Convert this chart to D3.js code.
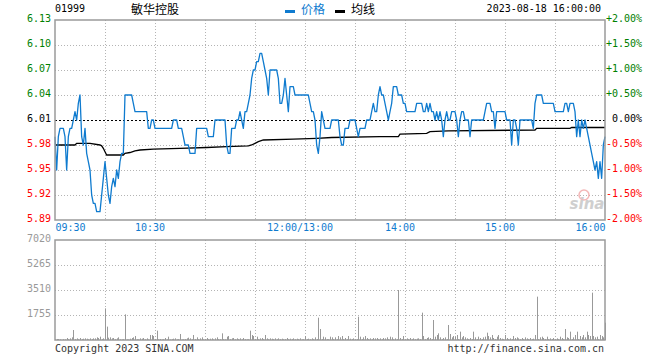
<!DOCTYPE html>
<html><head><meta charset="utf-8">
<script src="https://cdn.jsdelivr.net/npm/d3@7"></script>
<style>
html,body{margin:0;padding:0;background:#fff;}
svg{display:block;}
</style></head>
<body>
<svg id="c" width="660" height="360"></svg>
<script>
// ---- data ----
const stockCode = "01999";
const stockName = "敏华控股";
const dateTime = "2023-08-18 16:00:00";
const prevClose = 6.01;
const priceTicks = [6.13, 6.10, 6.07, 6.04, 6.01, 5.98, 5.95, 5.92, 5.89];
const pctLabels = ["+2.00%", "+1.50%", "+1.00%", "+0.50%", "0.00%", "-0.50%", "-1.00%", "-1.50%", "-2.00%"];
const volTicks = [7020, 5265, 3510, 1755];
const timeTicks = ["09:30", "10:30", "12:00/13:00", "14:00", "15:00", "16:00"];
// one price per trading minute from 09:30
const prices = [
5.99,5.95,5.99,6.00,6.00,6.00,5.99,5.95,5.99,6.00,
6.00,6.01,6.02,6.01,6.03,6.04,5.99,5.98,6.00,5.97,
5.96,5.95,5.92,5.91,5.91,5.90,5.90,5.90,5.92,5.94,
5.96,5.94,5.92,5.91,5.93,5.94,5.93,5.95,5.94,5.96,
5.97,5.97,6.04,6.04,6.04,6.04,6.04,6.03,6.02,6.02,
6.02,6.02,6.02,6.02,6.02,6.02,6.00,6.00,6.01,6.01,
6.00,6.00,6.00,6.00,6.00,6.00,6.00,6.00,6.00,6.00,
6.00,6.01,6.01,6.01,6.00,6.00,6.00,5.99,5.98,5.98,
5.98,5.97,5.97,5.97,5.97,6.00,6.00,6.00,6.00,6.00,
6.00,6.00,5.99,5.99,5.99,5.99,6.01,6.01,6.01,6.01,
6.01,6.01,6.01,5.98,5.97,5.97,6.00,6.00,6.00,6.01,
6.01,6.02,6.01,6.00,6.02,6.02,6.03,6.04,6.06,6.07,
6.07,6.08,6.08,6.09,6.09,6.08,6.07,6.06,6.04,6.07,
6.07,6.07,6.07,6.07,6.06,6.03,6.03,6.04,6.06,6.04,
6.02,6.05,6.05,6.05,6.04,6.04,6.04,6.04,6.04,6.04,
6.04,6.04,6.04,6.03,6.02,6.02,6.01,5.98,5.97,5.99,
6.02,6.01,6.00,6.00,6.00,6.00,6.01,6.01,6.01,6.01,
6.01,5.99,5.98,5.98,6.00,6.00,6.00,6.01,6.01,6.01,
6.01,6.00,5.99,6.00,6.00,6.00,6.00,6.01,6.01,6.01,
6.02,6.03,6.02,6.02,6.04,6.05,6.04,6.04,6.03,6.02,
6.01,6.02,6.03,6.05,6.05,6.05,6.04,6.04,6.04,6.03,
6.03,6.02,6.02,6.02,6.02,6.02,6.02,6.03,6.03,6.03,
6.03,6.02,6.02,6.03,6.02,6.03,6.02,6.02,6.01,6.02,
6.01,6.02,6.01,5.99,6.01,6.02,6.01,6.01,6.02,6.02,
6.02,6.01,5.99,6.01,6.02,6.02,6.01,6.01,6.01,5.99,
6.01,6.01,6.01,6.01,6.01,6.01,6.01,6.01,6.02,6.03,
6.03,6.03,6.02,6.02,6.00,6.02,6.02,6.02,6.02,6.02,
6.02,6.01,6.01,6.01,5.98,6.01,6.01,6.00,5.98,6.01,
6.01,6.01,6.01,6.01,6.01,6.01,6.01,6.00,6.03,6.04,
6.04,6.04,6.04,6.03,6.03,6.03,6.03,6.03,6.03,6.03,
6.02,6.02,6.02,6.02,6.02,6.02,6.03,6.03,6.02,6.03,
6.03,6.03,6.02,5.99,6.01,5.99,6.01,6.00,6.01,6.00,
5.99,5.98,5.97,5.96,5.95,5.96,5.94,5.96,5.94,5.98,
5.99
];
// one volume per trading minute from 09:30
const volumes = [
60,70,70,40,0,50,40,140,60,117,
187,700,60,117,50,140,60,94,117,94,
50,117,60,117,117,187,140,234,60,117,
2220,940,164,187,117,140,60,117,187,40,
30,50,1800,40,30,94,140,187,281,50,
40,117,94,140,50,117,40,351,351,281,
60,655,40,70,30,50,140,40,234,30,
50,94,117,40,60,421,30,40,60,117,
164,117,40,351,60,187,50,117,187,40,
60,140,50,94,117,40,117,187,60,50,
468,60,40,234,281,60,117,140,50,117,
60,117,40,140,60,40,50,655,351,281,
60,234,50,117,140,60,351,117,50,117,
94,60,117,50,117,60,94,50,60,140,
50,94,60,117,50,94,60,117,40,50,
281,60,94,50,117,60,187,70,1568,772,
60,234,187,60,50,234,187,60,187,50,
281,187,281,60,140,50,281,94,60,117,
50,60,1638,234,60,187,281,140,60,117,
50,140,117,140,60,117,50,140,117,187,
60,234,187,50,117,60,3510,140,60,281,
50,117,60,140,50,117,60,94,117,60,
1919,281,60,140,187,140,60,1404,234,351,
468,187,60,140,187,60,1053,421,187,281,
234,351,60,585,187,281,187,117,60,140,
60,585,187,60,234,140,60,187,234,515,
281,187,351,140,60,234,351,140,94,60,
351,140,60,117,60,281,140,187,117,60,
140,60,187,117,60,140,60,94,351,3042,
60,187,234,140,60,234,60,117,60,140,
60,117,60,234,140,60,772,187,140,585,
60,187,351,585,60,281,187,351,187,585,
351,281,3323,281,187,234,60,351,281,187,
1216
];
// average price line, read at its turning points
const avgTimes = ["09:30","09:42","09:43","09:51","09:57","09:58","09:59","10:00","10:01","10:11","10:12","10:15","10:18","10:21","10:29","10:45","11:01","11:13","11:26","11:28","11:30","11:32","11:35","11:53","13:07","13:16","13:45","13:56","13:57","14:13","14:15","14:26","15:18","15:19","15:39","15:40","16:00"];
const avgValues = [5.980,5.980,5.982,5.982,5.980,5.979,5.976,5.972,5.968,5.968,5.970,5.971,5.973,5.974,5.975,5.976,5.977,5.978,5.979,5.980,5.982,5.984,5.986,5.987,5.988,5.989,5.990,5.990,5.993,5.994,5.996,5.997,5.998,6.000,6.000,6.001,6.001];

// ---- helpers ----
function tradeMinute(label) {
  const t = label.split("/")[0];
  const [h, m] = t.split(":").map(Number);
  const mins = h * 60 + m;
  return mins <= 720 ? mins - 570 : mins - 780 + 150;
}

const svg = d3.select("#c");
const mono = "'DejaVu Sans Mono', 'Liberation Mono', monospace";
const cjk = "'Noto Sans CJK SC', sans-serif";
const blue = "#0f7bcf";
const green = "#008000";
const red = "#ff0000";
const gridCol = "#b4b4b4";
const borderCol = "#9a9a9a";

const x = d3.scaleLinear().domain([0, 330]).range([55, 605]);
const yP = d3.scaleLinear().domain([5.89, 6.13]).range([220, 20]);
const yV = d3.scaleLinear().domain([0, 7020]).range([340, 240]);

const crisp = v => Math.round(v) + 0.5;

// ---- header ----
svg.append("text").attr("x", 55).attr("y", 12).attr("font-family", mono).attr("font-size", 10).attr("fill", "#000").text(stockCode);
svg.append("text").attr("x", 131).attr("y", 13.5).attr("font-family", cjk).attr("font-size", 12).attr("fill", "#000").text(stockName);
svg.append("rect").attr("x", 285).attr("y", 10).attr("width", 10).attr("height", 3).attr("fill", blue);
svg.append("text").attr("x", 301).attr("y", 13.5).attr("font-family", cjk).attr("font-size", 12).attr("fill", blue).text("价格");
svg.append("rect").attr("x", 335).attr("y", 10).attr("width", 10).attr("height", 3).attr("fill", "#000");
svg.append("text").attr("x", 351).attr("y", 13.5).attr("font-family", cjk).attr("font-size", 12).attr("fill", "#000").text("均线");
svg.append("text").attr("x", 601).attr("y", 12).attr("text-anchor", "end").attr("font-family", mono).attr("font-size", 10).attr("fill", "#000").text(dateTime);

// ---- grids ----
const gridMinutes = d3.range(30, 330, 30);
const g = svg.append("g");
g.selectAll("line.vg").data(gridMinutes).join("line")
  .attr("x1", d => crisp(x(d))).attr("x2", d => crisp(x(d)))
  .attr("y1", 20).attr("y2", 220)
  .attr("stroke", gridCol).attr("stroke-dasharray", "1,2");
g.selectAll("line.vg2").data(gridMinutes).join("line")
  .attr("x1", d => crisp(x(d))).attr("x2", d => crisp(x(d)))
  .attr("y1", 240).attr("y2", 340)
  .attr("stroke", gridCol).attr("stroke-dasharray", "1,2");
g.selectAll("line.hg").data(priceTicks.filter(d => d !== prevClose && d !== 6.13 && d !== 5.89)).join("line")
  .attr("x1", 55).attr("x2", 605)
  .attr("y1", d => crisp(yP(d))).attr("y2", d => crisp(yP(d)))
  .attr("stroke", gridCol).attr("stroke-dasharray", "1,2");
g.selectAll("line.hv").data(volTicks.filter(d => d !== 7020)).join("line")
  .attr("x1", 55).attr("x2", 605)
  .attr("y1", d => crisp(yV(d))).attr("y2", d => crisp(yV(d)))
  .attr("stroke", gridCol).attr("stroke-dasharray", "1,2");

// prev close
svg.append("line").attr("x1", 55).attr("x2", 605)
  .attr("y1", crisp(yP(prevClose))).attr("y2", crisp(yP(prevClose)))
  .attr("stroke", "#000").attr("stroke-width", 1.2).attr("stroke-dasharray", "2,2");

// sina watermark
const wm = svg.append("g").attr("opacity", 0.8);
wm.append("circle").attr("cx", 584).attr("cy", 195).attr("r", 5).attr("fill", "none").attr("stroke", "#f2a6a6").attr("stroke-width", 1.5);
wm.append("text").attr("x", 587).attr("y", 209).attr("text-anchor", "middle")
  .attr("font-family", "'DejaVu Sans', sans-serif").attr("font-size", 15).attr("font-weight", "bold").attr("font-style", "italic")
  .attr("fill", "#c4c4c4").text("sina");

// ---- volume bars ----
svg.append("g").selectAll("line").data(volumes).join("line")
  .attr("x1", (d, i) => crisp(x(i))).attr("x2", (d, i) => crisp(x(i)))
  .attr("y1", yV(0)).attr("y2", d => yV(d))
  .attr("stroke", "#999").attr("stroke-width", 1);

// ---- avg line ----
const avgPts = avgTimes.map((t, i) => [tradeMinute(t), avgValues[i]]);
svg.append("path").datum(avgPts)
  .attr("d", d3.line().x(d => x(d[0])).y(d => yP(d[1])))
  .attr("fill", "none").attr("stroke", "#000").attr("stroke-width", 1.3);

// ---- price line ----
svg.append("path").datum(prices)
  .attr("d", d3.line().x((d, i) => x(i)).y(d => yP(d)))
  .attr("fill", "none").attr("stroke", blue).attr("stroke-width", 1.3).attr("stroke-linejoin", "round");

// ---- borders ----
svg.append("rect").attr("x", 55).attr("y", 20).attr("width", 550).attr("height", 200)
  .attr("fill", "none").attr("stroke", borderCol).attr("stroke-width", 1.5);
svg.append("rect").attr("x", 55).attr("y", 240).attr("width", 550).attr("height", 100)
  .attr("fill", "none").attr("stroke", borderCol).attr("stroke-width", 1.5);

// ---- axes ----
const colorFor = d => d > prevClose + 1e-9 ? green : (d < prevClose - 1e-9 ? red : "#000");

const leftAx = svg.append("g").attr("transform", "translate(55,0)")
  .call(d3.axisLeft(yP).tickValues(priceTicks).tickSize(0).tickPadding(4).tickFormat(d3.format(".2f")));
leftAx.select(".domain").remove();
leftAx.selectAll("text").attr("font-family", mono).attr("font-size", 10).attr("dy", "0.12em")
  .attr("fill", d => colorFor(d));

const rightAx = svg.append("g").attr("transform", "translate(605,0)")
  .call(d3.axisRight(yP).tickValues(priceTicks).tickSize(0).tickPadding(0).tickFormat((d, i) => pctLabels[i]));
rightAx.select(".domain").remove();
rightAx.selectAll("text").attr("font-family", mono).attr("font-size", 10).attr("dy", "0.12em")
  .attr("text-anchor", "end").attr("x", 37)
  .attr("fill", d => colorFor(d));

const volAx = svg.append("g").attr("transform", "translate(55,0)")
  .call(d3.axisLeft(yV).tickValues(volTicks).tickSize(0).tickPadding(4).tickFormat(d3.format("d")));
volAx.select(".domain").remove();
volAx.selectAll("text").attr("font-family", mono).attr("font-size", 10).attr("dy", "0.1em").attr("fill", "#999");

const tickMinutes = timeTicks.map(tradeMinute);
const timeAx = svg.append("g").attr("transform", "translate(0,220)")
  .call(d3.axisBottom(x).tickValues(tickMinutes).tickSize(0).tickPadding(4).tickFormat((d, i) => timeTicks[i]));
timeAx.select(".domain").remove();
timeAx.selectAll("text").attr("font-family", mono).attr("font-size", 10).attr("fill", blue)
  .attr("text-anchor", (d, i) => i === 0 ? "start" : (i === timeTicks.length - 1 ? "end" : "middle"))
  .attr("dx", (d, i) => (i === 0 || i === timeTicks.length - 1) ? 0 : -5.5);

// ---- footer ----
svg.append("text").attr("x", 55).attr("y", 352).attr("font-family", mono).attr("font-size", 10).attr("fill", "#333").text("Copyright 2023 SINA.COM");
svg.append("text").attr("x", 604).attr("y", 352).attr("text-anchor", "end").attr("font-family", mono).attr("font-size", 10).attr("fill", "#333").text("http://finance.sina.com.cn");
</script>
</body></html>
